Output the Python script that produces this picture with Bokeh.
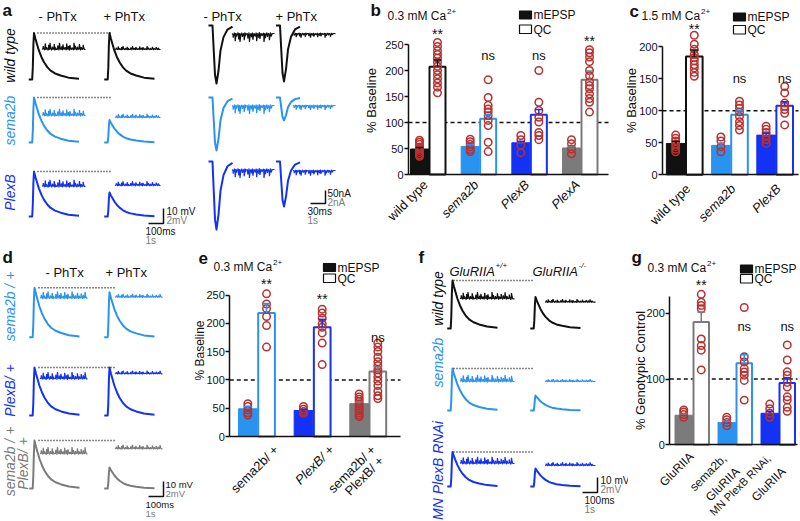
import math
from bokeh.plotting import figure
from bokeh.models import Range1d, Label, FixedTicker, LinearAxis
from bokeh.layouts import row, column
from bokeh.embed import file_html
from bokeh.resources import INLINE

FONT = "Liberation Sans"
BLACK = "#111111"
LBLUE = "#2a93f0"
BLUE = "#1432f5"
GREY = "#7b7b7b"
RED = "#b8312f"

# ---------------- bar-chart data ----------------
b_groups = ["wild type", "sema2b", "PlexB", "PlexA"]
b_mepsp = [49, 54, 61, 51]
b_mepsp_sem = [3, 3, 3, 3]
b_qc = [207, 107, 115, 182]
b_qc_sem = [13, 8, 10, 17]
b_mepsp_pts = [[66, 62, 58, 53, 50, 46, 42, 38, 35], [68, 63, 58, 53, 48, 44],
               [75, 67, 56, 42], [67, 59, 49, 40]]
b_qc_pts = [[254, 246, 238, 231, 224, 216, 208, 200, 192, 184, 176, 168, 157],
            [182, 148, 133, 126, 120, 113, 104, 94, 62, 44],
            [200, 139, 123, 110, 101, 81, 75, 67],
            [240, 234, 226, 217, 200, 190, 178, 171, 165, 155, 146, 139, 120]]
b_marks = ["**", "ns", "ns", "**"]

c_groups = ["wild type", "sema2b", "PlexB"]
c_mepsp = [49, 46, 62]
c_mepsp_sem = [3, 3, 3]
c_qc = [185, 94, 108]
c_qc_sem = [10, 6, 6]
c_mepsp_pts = [[62, 57, 53, 48, 44, 40, 36], [59, 53, 44, 36], [76, 71, 66, 61, 55, 49]]
c_qc_pts = [[218, 204, 196, 188, 183, 178, 172, 167, 160, 154],
            [115, 109, 104, 98, 91, 83, 77, 70],
            [138, 128, 112, 107, 102, 96, 78]]
c_marks = ["**", "ns", "ns"]

e_groups = ["sema2b/ +", "PlexB/ +", "sema2b/ +|PlexB/ +"]
e_mepsp = [49, 46, 58]
e_mepsp_sem = [4, 2, 3]
e_qc = [218, 193, 115]
e_qc_sem = [17, 14, 8]
e_mepsp_pts = [[58, 53, 47, 42, 38], [53, 48, 44, 41],
               [75, 70, 66, 62, 58, 54, 50, 46, 42, 38, 35]]
e_qc_pts = [[252, 234, 226, 212, 196, 158],
            [225, 218, 209, 199, 193, 183, 165, 127],
            [165, 158, 150, 140, 132, 125, 118, 112, 105, 98, 90, 80, 72, 67]]
e_marks = ["**", "**", "ns"]

g_groups = ["GluRIIA", "sema2b,|GluRIIA", "MN PlexB RNAi,|GluRIIA"]
g_mepsp = [45, 34, 48]
g_mepsp_sem = [2, 2, 3]
g_qc = [187, 124, 94]
g_qc_sem = [15, 13, 8]
g_mepsp_pts = [[53, 50, 46, 42], [42, 38, 34, 29], [62, 55, 48, 42]]
g_qc_pts = [[229, 217, 212, 207, 161, 151, 144, 114],
            [209, 134, 126, 116, 111, 106, 98, 68],
            [152, 129, 111, 106, 95, 88, 73, 68, 57, 51]]
g_marks = ["**", "ns", "ns"]

# ---------------- representative trace data ----------------
epsp_t_ms = [0, 23, 27, 31, 35, 45, 55, 68, 85, 102, 125, 146, 175, 213, 265, 335]
epsp_norm = [0, 0, 0.25, 0.75, 1.0, 0.87, 0.76, 0.62, 0.48, 0.37, 0.26, 0.19, 0.13,
             0.085, 0.04, 0.015]
epsc_t_ms = [0, 8, 10, 13, 16, 20, 24, 30, 38, 48]
epsc_norm = [0, 0, 0.35, 0.85, 1.0, 0.78, 0.43, 0.2, 0.07, 0.02]
mini_t_s = [0.05, 0.18, 0.27, 0.41, 0.5, 0.66, 0.78, 0.86, 1.02, 1.13, 1.27, 1.36, 1.5,
            1.61, 1.74, 1.83, 1.97, 2.1, 2.19, 2.33, 2.46, 2.58, 2.71, 2.85, 2.97, 3.1,
            3.25, 3.4, 3.52, 3.66]
mini_rel = [0.5, 0.9, 0.35, 0.7, 1.0, 0.4, 0.8, 0.3, 0.6, 1.0, 0.45, 0.75, 0.35, 0.9,
            0.5, 0.65, 0.3, 1.0, 0.55, 0.4, 0.8, 0.35, 0.7, 0.5, 0.95, 0.4, 0.6, 0.85,
            0.45, 0.7]
mini_noise = [0.12, -0.1, 0.08, -0.12, 0.1, -0.06, 0.14, -0.1, 0.06, -0.12, 0.1, -0.08,
              0.12, -0.1, 0.08, -0.14, 0.1, -0.06, 0.12, -0.1, 0.08, -0.12, 0.1, -0.08,
              0.12, -0.1, 0.06, -0.12, 0.1, -0.08]
mini_mV = 0.9
mini_nA = 1.3

a_rows = ["wild type", "sema2b", "PlexB"]
a_epsp_minus = [31, 30, 30]
a_epsp_plus = [31, 15, 16]
a_epsc_minus = [223, 204, 262]
a_epsc_plus = [215, 88, 173]

d_rows = ["sema2b / +", "PlexB/ +", "sema2b / +|PlexB/ +"]
d_epsp_minus = [33, 32, 32]
d_epsp_plus = [30, 32, 14]

f_rows = ["wild type", "sema2b", "MN PlexB RNAi"]
f_epsp_wt = [32, 28, 23]
f_epsp_null = [21, 10, 12]

# ---------------- scale factors of the schematic traces ----------------
MV_PX = 1.5       # px per mV   (10 mV bar)
MS_PX = 0.15      # px per ms   (100 ms bar)
MINI_MV_PX = 7.5  # px per mV   (2 mV bar)
S_PX = 15.0       # px per s    (1 s bar)
NA_PX = 0.26      # px per nA   (50 nA bar)
EMS_PX = 0.5      # px per ms   (30 ms bar)
MINI_NA_PX = 6.5  # px per nA   (2 nA bar)


def L(p, x, y, text, size=12, color=BLACK, style="normal", align="left",
      baseline="middle", angle=0.0):
    p.add_layout(Label(x=x, y=y, text=text, text_font=FONT, text_font_size=f"{size}px",
                       text_color=color, text_font_style=style, text_align=align,
                       text_baseline=baseline, angle=angle))


def no_align(p):
    try:
        p.frame_align = False
    except Exception:
        pass


def trace_fig(left, top, w, h):
    p = figure(width=w, height=h, x_range=Range1d(left, left + w),
               y_range=Range1d(top + h, top), x_axis_location=None, y_axis_location=None,
               min_border=0, min_border_left=0, min_border_right=0, min_border_top=0,
               min_border_bottom=0, toolbar_location=None, output_backend="svg",
               title=None)
    p.outline_line_color = None
    p.grid.visible = False
    no_align(p)
    return p


def epsp(p, peak_x, base, amp, color):
    x0 = peak_x - 35 * MS_PX
    xs = [x0 + t * MS_PX for t in epsp_t_ms]
    ys = [base - amp * MV_PX * n for n in epsp_norm]
    p.line(xs, ys, line_color=color, line_width=2, line_join="round")
    return base - amp * MV_PX


def epsc(p, x0, base, amp, color):
    xs = [x0 + t * EMS_PX for t in epsc_t_ms]
    ys = [base + amp * NA_PX * n for n in epsc_norm]
    p.line(xs, ys, line_color=color, line_width=2, line_join="round")


def minis(p, x0, x1, base, amp_px, color, sign=-1):
    xs, ys = [x0], [base]
    for t, r, nz in zip(mini_t_s, mini_rel, mini_noise):
        xe = x0 + t * S_PX
        if xe > x1 - 1.5:
            break
        a = amp_px * r
        xs += [xe - 0.9, xe - 0.3, xe, xe + 0.6, xe + 1.3]
        ys += [base + sign * nz * amp_px, base, base + sign * a, base + sign * a * 0.35,
               base]
    xs.append(x1)
    ys.append(base)
    p.line(xs, ys, line_color=color, line_width=1.2)


def dotted(p, x0, x1, y):
    p.line([x0, x1], [y, y], line_color=BLACK, line_width=1.6, line_dash="1 2")


def scalebar(p, xc, yc, vlen, hlen, t1, t2, t3, t4, tx1, tx2, size=10):
    p.line([xc, xc, xc - hlen], [yc - vlen, yc, yc], line_color=BLACK, line_width=1.5)
    L(p, tx1, yc - vlen + 3, t1, size)
    L(p, tx1, yc - vlen + 12, t2, size, GREY)
    L(p, tx2, yc + 8, t3, size)
    L(p, tx2, yc + 17, t4, size, GREY)


def bar_panel(left, top, w, h, axis_x, axis_y, c0, ppx, ppy, yticks, ytop, xend):
    def sx(px):
        return (px - c0) / ppx

    def sy(py):
        return (axis_y - py) / ppy

    p = figure(width=w, height=h, x_range=Range1d(sx(left), sx(left + w)),
               y_range=Range1d(sy(top + h), sy(top)), x_axis_location=None,
               y_axis_location=None, min_border=0, min_border_left=0, min_border_right=0,
               min_border_top=0, min_border_bottom=0, toolbar_location=None,
               output_backend="svg", title=None)
    p.grid.visible = False
    p.outline_line_color = None
    no_align(p)
    ya = LinearAxis(fixed_location=sx(axis_x), bounds=(0, ytop),
                    ticker=FixedTicker(ticks=yticks, minor_ticks=[]))
    ya.major_tick_out = 4
    ya.major_tick_in = 0
    ya.major_tick_line_width = 1.5
    ya.major_tick_line_color = BLACK
    ya.minor_tick_line_color = None
    ya.axis_line_width = 1.5
    ya.axis_line_color = BLACK
    ya.major_label_text_font = FONT
    ya.major_label_text_font_size = "11px"
    ya.major_label_text_color = BLACK
    ya.major_label_standoff = 1
    p.add_layout(ya, "left")
    xa = LinearAxis(fixed_location=0, bounds=(sx(axis_x), sx(xend)),
                    ticker=FixedTicker(ticks=[], minor_ticks=[]))
    xa.major_label_text_font_size = "0px"
    xa.major_tick_line_color = None
    xa.minor_tick_line_color = None
    xa.axis_line_width = 1.5
    xa.axis_line_color = BLACK
    p.add_layout(xa, "below")
    return p, sx, sy


def draw_bars(p, sx, ppx, axis_x, xend, colors, mep, mep_sem, qc, qc_sem, mep_pts,
              qc_pts, bw_px):
    n = len(mep)
    off = bw_px / 2 / ppx
    bw = bw_px / ppx
    p.line([sx(axis_x), sx(xend)], [100, 100], line_color=BLACK, line_width=1.5,
           line_dash="4 3")
    xm = [i - off for i in range(n)]
    xq = [i + off for i in range(n)]
    p.vbar(x=xm, top=mep, width=bw, bottom=0, fill_color=colors, line_color=colors,
           line_width=1)
    p.vbar(x=xq, top=qc, width=bw - 2 / ppx, bottom=0, fill_color="white",
           line_color=colors, line_width=2)
    dx, dy = [], []
    for i in range(n):
        dx += [xm[i]] * len(mep_pts[i])
        dy += mep_pts[i]
        dx += [xq[i]] * len(qc_pts[i])
        dy += qc_pts[i]
    p.scatter(x=dx, y=dy, marker="circle", size=7.5, fill_color=None, line_color=RED,
              line_width=1.5)
    cap = 4 / ppx
    ex = xm + xq
    emean = list(mep) + list(qc)
    etop = [m + s for m, s in zip(mep, mep_sem)] + [m + s for m, s in zip(qc, qc_sem)]
    ecol = list(colors) + list(colors)
    p.segment(x0=ex, y0=emean, x1=ex, y1=etop, line_color=ecol, line_width=1.5)
    p.segment(x0=[x - cap for x in ex], y0=etop, x1=[x + cap for x in ex], y1=etop,
              line_color=ecol, line_width=1.5)
    return xq


def legend(p, sx, sy, xl, ytop1, ytop2, size):
    p.quad(left=[sx(xl), sx(xl)], right=[sx(xl + size), sx(xl + size)],
           top=[sy(ytop1), sy(ytop2)], bottom=[sy(ytop1 + 8), sy(ytop2 + 8.5)],
           fill_color=[BLACK, "white"], line_color=BLACK, line_width=1.2)
    L(p, sx(xl + size + 2), sy(ytop1 + 4), "mEPSP", 12)
    L(p, sx(xl + size + 2), sy(ytop2 + 4.5), "QC", 12)


def ca_title(p, sx, sy, x, y, conc):
    L(p, sx(x), sy(y), f"{conc} mM Ca", 12)
    L(p, sx(x + 59.5), sy(y - 4), "2+", 8)


def mark(p, x, y, text):
    L(p, x, y, text, 14 if text == "**" else 13, align="center")


ROW1_H = 248
ROW2_TOP = 248
ROW2_H = 272
D_W = 193

# ======================= Panel a =======================
pa = trace_fig(0, 0, 362, ROW1_H)
L(pa, 2, 10, "a", 17, style="bold")
L(pa, 38, 16, "- PhTx", 13)
L(pa, 103, 16, "+ PhTx", 13)
L(pa, 203, 16, "- PhTx", 13)
L(pa, 275, 16, "+ PhTx", 13)
a_cols = [BLACK, LBLUE, BLUE]
a_base = [79, 142, 216]
a_mini_base_m = [49, 115, 186]
a_mini_base_p = [49, 117, 185]
a_label_y = [55, 120, 192]
a_ic_base = [25, 97, 161]
a_ic_mini_m = [33, 105, 169]
a_ic_mini_p = [33, 105, 170]
for i in range(3):
    col = a_cols[i]
    L(pa, 9, a_label_y[i], a_rows[i], 14, col, "italic", "center", "middle", math.pi / 2)
    top_level = epsp(pa, 33.5, a_base[i], a_epsp_minus[i], col)
    epsp(pa, 109, a_base[i], a_epsp_plus[i], col)
    dotted(pa, 37, 111, top_level)
    minis(pa, 42, 85, a_mini_base_m[i], mini_mV * MINI_MV_PX, col)
    minis(pa, 115, 160, a_mini_base_p[i], mini_mV * MINI_MV_PX * b_mepsp[i] / 100, col)
    epsc(pa, 208, a_ic_base[i], a_epsc_minus[i], col)
    epsc(pa, 275.5, a_ic_base[i], a_epsc_plus[i], col)
    minis(pa, 232, 274, a_ic_mini_m[i], mini_nA * MINI_NA_PX, col, sign=1)
    minis(pa, 293, 335, a_ic_mini_p[i], mini_nA * MINI_NA_PX * b_mepsp[i] / 100, col,
          sign=1)
scalebar(pa, 163, 223, 15, 15, "10 mV", "2mV", "100ms", "1s", 166, 145)
scalebar(pa, 325, 203, 13, 15, "50nA", "2nA", "30ms", "1s", 327, 307)

# ======================= Panel b =======================
pb, bsx, bsy = bar_panel(362, 0, 260, ROW1_H, 408, 174, 428, 50.67, 0.52,
                         [0, 50, 100, 150, 200, 250], 250, 608)
b_cols = [BLACK, LBLUE, BLUE, GREY]
bxq = draw_bars(pb, bsx, 50.67, 408, 608, b_cols, b_mepsp, b_mepsp_sem, b_qc, b_qc_sem,
                b_mepsp_pts, b_qc_pts, 18)
L(pb, bsx(370), bsy(10), "b", 17, style="bold")
ca_title(pb, bsx, bsy, 387, 15, "0.3")
legend(pb, bsx, bsy, 519, 10.5, 24.5, 12)
L(pb, bsx(371), bsy(100), "% Baseline", 13, angle=math.pi / 2, align="center")
b_mark_py = [33, 55, 55, 40]
for i in range(4):
    mark(pb, bxq[i], bsy(b_mark_py[i]), b_marks[i])
    st = "normal" if b_groups[i] == "wild type" else "italic"
    L(pb, bsx(428 + 50.67 * i - 3), bsy(182), b_groups[i], 13, style=st, align="right",
      angle=math.pi / 4)

# ======================= Panel c =======================
pc, csx, csy = bar_panel(622, 0, 178, ROW1_H, 662, 174.3, 684.5, 45.2, 0.64,
                         [0, 50, 100, 150, 200], 200, 798)
c_cols = [BLACK, LBLUE, BLUE]
cxq = draw_bars(pc, csx, 45.2, 662, 798, c_cols, c_mepsp, c_mepsp_sem, c_qc, c_qc_sem,
                c_mepsp_pts, c_qc_pts, 18.6)
L(pc, csx(629), csy(11), "c", 17, style="bold")
ca_title(pc, csx, csy, 641, 15, "1.5")
legend(pc, csx, csy, 733, 12.5, 25, 12)
L(pc, csx(631), csy(100), "% Baseline", 13, angle=math.pi / 2, align="center")
c_mark_py = [28, 78, 78]
for i in range(3):
    mark(pc, cxq[i], csy(c_mark_py[i]), c_marks[i])
    st = "normal" if c_groups[i] == "wild type" else "italic"
    L(pc, csx(684.5 + 45.2 * i + 3), csy(186), c_groups[i], 13, style=st, align="right",
      angle=math.pi / 4)

# ======================= Panel d =======================
pd_ = trace_fig(0, ROW2_TOP, D_W, ROW2_H)
L(pd_, 2, 257, "d", 17, style="bold")
L(pd_, 45, 272, "- PhTx", 13)
L(pd_, 105, 272, "+ PhTx", 13)
d_cols = [LBLUE, BLUE, GREY]
d_base = [336.7, 415, 488]
d_mini_m = [297.7, 378.3, 453.3]
d_mini_p = [296.7, 373.3, 448.3]
for i in range(3):
    col = d_cols[i]
    top_level = epsp(pd_, 34, d_base[i], d_epsp_minus[i], col)
    epsp(pd_, 109, d_base[i], d_epsp_plus[i], col)
    dotted(pd_, 38, 114, top_level)
    minis(pd_, 40, 87, d_mini_m[i], mini_mV * MINI_MV_PX, col)
    minis(pd_, 115, 162, d_mini_p[i], mini_mV * MINI_MV_PX * e_mepsp[i] / 100, col)
L(pd_, 9, 306, d_rows[0], 14, LBLUE, "italic", "center", "middle", math.pi / 2)
L(pd_, 9, 390, d_rows[1], 14, BLUE, "italic", "center", "middle", math.pi / 2)
l1, l2 = d_rows[2].split("|")
L(pd_, 9, 461, l1, 14, GREY, "italic", "center", "middle", math.pi / 2)
L(pd_, 22, 463, l2, 14, GREY, "italic", "center", "middle", math.pi / 2)
scalebar(pd_, 163, 496, 15, 15, "10 mV", "2mV", "100ms", "1s", 165, 145, 9.5)

# ======================= Panel e =======================
pe, esx, esy = bar_panel(D_W, ROW2_TOP, 430 - D_W, ROW2_H, 229.3, 436, 256.7, 55.65,
                         0.566, [0, 50, 100, 150, 200, 250], 250, 400)
e_cols = [LBLUE, BLUE, GREY]
exq = draw_bars(pe, esx, 55.65, 229.3, 400, e_cols, e_mepsp, e_mepsp_sem, e_qc, e_qc_sem,
                e_mepsp_pts, e_qc_pts, 18.7)
L(pe, esx(198), esy(257), "e", 17, style="bold")
L(pe, esx(418), esy(257), "f", 17, style="bold")
ca_title(pe, esx, esy, 213, 266, "0.3")
legend(pe, esx, esy, 323, 263, 273.5, 12)
L(pe, esx(199.5), esy(350), "% Baseline", 12, angle=math.pi / 2, align="center")
e_mark_py = [283, 298, 337]
for i in range(3):
    mark(pe, exq[i], esy(e_mark_py[i]), e_marks[i])
parts = e_groups[2].split("|")
L(pe, esx(256.7 + 19), esy(447), e_groups[0], 13, align="right", angle=math.pi / 4)
L(pe, esx(312.3 + 19), esy(447), e_groups[1], 13, style="italic", align="right",
  angle=math.pi / 4)
L(pe, esx(368 + 5), esy(447), parts[0], 13, align="right", angle=math.pi / 4)
L(pe, esx(368 + 13), esy(458), parts[1], 13, align="right", angle=math.pi / 4)

# ======================= Panel f =======================
pf = trace_fig(430, ROW2_TOP, 198, ROW2_H)
L(pf, 449, 271, "GluRIIA", 13, style="italic")
L(pf, 495, 265, "+/+", 8, style="italic")
L(pf, 532, 271, "GluRIIA", 13, style="italic")
L(pf, 578, 265, "-/-", 8, style="italic")
f_cols = [BLACK, LBLUE, BLUE]
f_base = [328, 410, 486]
f_mini_a = [298.3, 381, 463]
f_mini_b = [301.7, 381, 465]
f_label_y = [298, 362, 470]
for i in range(3):
    col = f_cols[i]
    L(pf, 437, f_label_y[i], f_rows[i], 14, col, "italic", "center", "middle", math.pi / 2)
    top_level = epsp(pf, 452, f_base[i], f_epsp_wt[i], col)
    epsp(pf, 535, f_base[i], f_epsp_null[i], col)
    dotted(pf, 453, 533, top_level)
    minis(pf, 460, 514, f_mini_a[i], mini_mV * MINI_MV_PX, col)
    minis(pf, 545, 595, f_mini_b[i], mini_mV * MINI_MV_PX * g_mepsp[i] / 100, col)
scalebar(pf, 597, 492, 15, 15, "10 mV", "2mV", "100ms", "1s", 600, 584)

# ======================= Panel g =======================
pg, gsx, gsy = bar_panel(628, ROW2_TOP, 172, ROW2_H, 669.3, 444.3, 692, 43, 0.657,
                         [0, 100, 200], 225, 797)
g_cols = [GREY, LBLUE, BLUE]
gxq = draw_bars(pg, gsx, 43, 669.3, 797, g_cols, g_mepsp, g_mepsp_sem, g_qc, g_qc_sem,
                g_mepsp_pts, g_qc_pts, 17.5)
L(pg, gsx(631), gsy(257), "g", 17, style="bold")
ca_title(pg, gsx, gsy, 647, 267, "0.3")
legend(pg, gsx, gsy, 740, 264.5, 274, 12)
L(pg, gsx(640), gsy(370), "% Genotypic Control", 13, angle=math.pi / 2, align="center")
g_mark_py = [284, 326, 326]
for i in range(3):
    mark(pg, gxq[i], gsy(g_mark_py[i]), g_marks[i])
L(pg, gsx(691), gsy(454), g_groups[0], 12, align="right", angle=math.pi / 4)
p1 = g_groups[1].split("|")
L(pg, gsx(724), gsy(456), p1[0], 12, align="right", angle=math.pi / 4)
L(pg, gsx(737), gsy(469), p1[1], 12, align="right", angle=math.pi / 4)
p2 = g_groups[2].split("|")
L(pg, gsx(768), gsy(456), p2[0], 11, align="right", angle=math.pi / 4)
L(pg, gsx(783), gsy(469), p2[1], 12, align="right", angle=math.pi / 4)

layout = column(row(pa, pb, pc), row(pd_, pe, pf, pg))
open("out.html", "w").write(file_html(layout, INLINE))
